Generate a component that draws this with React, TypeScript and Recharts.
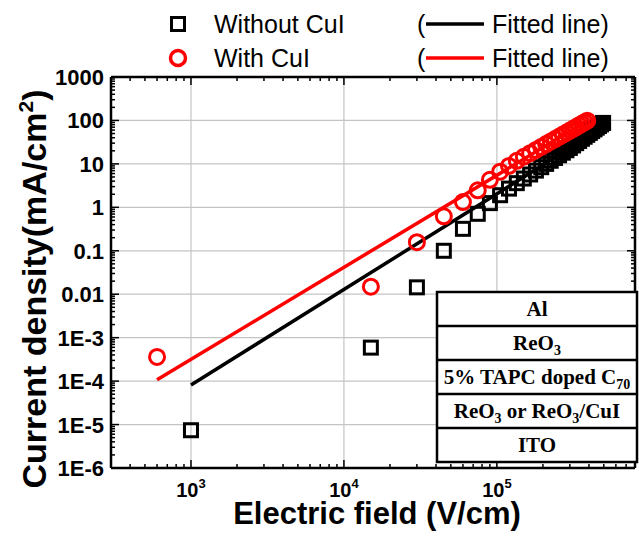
import React from "react";
import { CartesianGrid, Scatter, ScatterChart, XAxis, YAxis } from "recharts";

// Without CuI (black squares)
const FIELD_WITHOUT = [
  1000, 15000, 30000, 45000, 60000, 75000, 90000, 105000, 120000, 135000, 150000, 165000,
  180000, 195000, 210000, 225000, 240000, 255000, 270000, 285000, 300000, 315000, 330000,
  345000, 360000, 375000, 390000, 405000, 420000, 435000, 450000, 465000, 480000, 495000,
];
const J_WITHOUT = [
  7.4e-6, 5.9e-4, 0.0144, 0.1, 0.32, 0.71, 1.25, 1.9, 2.7, 3.6, 4.6, 5.7, 7.0, 8.4, 10.0,
  11.8, 13.7, 15.8, 18.1, 20.6, 23.3, 26.5, 30.0, 33.7, 37.8, 42.1, 46.7, 51.6, 56.8, 62.4,
  68.2, 74.4, 81.0, 87.8,
];

// With CuI (red circles)
const FIELD_WITH = [
  600, 15000, 30000, 45000, 60000, 75000, 90000, 105000, 120000, 135000, 150000, 165000,
  180000, 195000, 210000, 225000, 240000, 255000, 270000, 285000, 300000, 315000, 330000,
  345000, 360000, 375000, 390000,
];
const J_WITH = [
  3.6e-4, 0.0149, 0.158, 0.62, 1.32, 2.46, 4.3, 6.6, 9.0, 11.8, 14.6, 17.6, 21.0, 24.6, 28.6,
  32.8, 37.3, 42.1, 47.2, 52.6, 58.3, 64.2, 70.5, 77.1, 83.9, 91.0, 98.5,
];

// fitted lines (end points, straight in log-log)
const FIT_WITHOUT_X = [1000, 495000];
const FIT_WITHOUT_Y = [8.1e-5, 69];
const FIT_WITH_X = [600, 390000];
const FIT_WITH_Y = [1.07e-4, 98];

const X_MAJOR = [1e3, 1e4, 1e5];
const X_EXP = ["3", "4", "5"];
const Y_MAJOR = [1e-6, 1e-5, 1e-4, 1e-3, 0.01, 0.1, 1, 10, 100, 1000];
const Y_LABELS = ["1E-6", "1E-5", "1E-4", "1E-3", "0.01", "0.1", "1", "10", "100", "1000"];

// device stack, top to bottom: [text, subscript] pieces
const LAYERS: [string, string][][] = [
  [["Al", ""]],
  [["ReO", "3"]],
  [["5% TAPC doped C", "70"]],
  [["ReO", "3"], [" or ReO", "3"], ["/CuI", ""]],
  [["ITO", ""]],
];

const X_DOMAIN = [300, 800000];
const Y_DOMAIN = [1e-6, 1000];

const W = 639;
const H = 538;
const PLOT = { left: 111, top: 77, right: 635, bottom: 468 };
const TOP_H = 10;
const RIGHT_W = 4;

const RED = "#ff0000";
const SANS = "'Liberation Sans', Arial, sans-serif";
const SERIF = "'Liberation Serif', 'Times New Roman', serif";

function minorTicks(from: number, to: number) {
  const out: number[] = [];
  for (let d = from; d < to; d++) {
    for (let k = 1; k <= 9; k++) out.push(k * Math.pow(10, d));
  }
  return out;
}
const X_TICKS = minorTicks(2, 6).filter((v) => v >= X_DOMAIN[0] && v <= X_DOMAIN[1]);
const Y_TICKS = minorTicks(-6, 3).concat([1000]);

const findMajor = (v: number, list: number[]) => list.findIndex((m) => Math.abs(v / m - 1) < 1e-6);

const zip = (xs: number[], ys: number[]) => xs.map((x, i) => ({ x, y: ys[i] }));

function BottomTick(props: any) {
  const { x, y, payload } = props;
  const idx = findMajor(payload.value, X_MAJOR);
  const major = idx >= 0;
  return (
    <g>
      <line x1={x} x2={x} y1={y} y2={y - (major ? 8 : 4)} stroke="#000" strokeWidth={1.5} />
      {major && (
        <text x={x} y={y + 29} textAnchor="middle" fontFamily={SANS} fontWeight="bold" fontSize={20} fill="#000">
          10
          <tspan dy={-9} fontSize={13}>
            {X_EXP[idx]}
          </tspan>
        </text>
      )}
    </g>
  );
}

function TopTick(props: any) {
  const { x, y, payload } = props;
  const major = findMajor(payload.value, X_MAJOR) >= 0;
  return <line x1={x} x2={x} y1={y} y2={y + (major ? 8 : 4)} stroke="#000" strokeWidth={1.5} />;
}

function LeftTick(props: any) {
  const { x, y, payload } = props;
  const idx = findMajor(payload.value, Y_MAJOR);
  const major = idx >= 0;
  return (
    <g>
      <line x1={x} x2={x + (major ? 8 : 4)} y1={y} y2={y} stroke="#000" strokeWidth={1.5} />
      {major && (
        <text x={x - 7} y={y + 8} textAnchor="end" fontFamily={SANS} fontWeight="bold" fontSize={22} fill="#000">
          {Y_LABELS[idx]}
        </text>
      )}
    </g>
  );
}

function RightTick(props: any) {
  const { x, y, payload } = props;
  const major = findMajor(payload.value, Y_MAJOR) >= 0;
  return <line x1={x} x2={x - (major ? 8 : 4)} y1={y} y2={y} stroke="#000" strokeWidth={1.5} />;
}

const squareShape = (p: any) => (
  <rect x={p.cx - 6.5} y={p.cy - 6.5} width={13} height={13} fill="none" stroke="#000" strokeWidth={3} />
);
const circleShape = (p: any) => <circle cx={p.cx} cy={p.cy} r={7.5} fill="none" stroke={RED} strokeWidth={3} />;
const noShape = () => <g />;

function LayerText({ parts }: { parts: [string, string][] }) {
  const spans: React.ReactNode[] = [];
  let lowered = false;
  parts.forEach(([t, sub], j) => {
    spans.push(
      <tspan key={`t${j}`} dy={lowered ? -5 : 0}>
        {t}
      </tspan>
    );
    lowered = false;
    if (sub) {
      spans.push(
        <tspan key={`s${j}`} dy={5} fontSize={14}>
          {sub}
        </tspan>
      );
      lowered = true;
    }
  });
  return <>{spans}</>;
}

function Overlay() {
  const tx = 437;
  const ty = 292;
  const tw = 200;
  const rowH = 34;
  return (
    <svg width={W} height={H} style={{ position: "absolute", left: 0, top: 0, pointerEvents: "none" }}>
      {/* legend */}
      <rect x={171.5} y={17.5} width={13} height={13} fill="#fff" stroke="#000" strokeWidth={3} />
      <text x={214} y={33} fontFamily={SANS} fontSize={25} fill="#000">Without CuI</text>
      <text x={417} y={33} fontFamily={SANS} fontSize={25} fill="#000">(</text>
      <line x1={426} x2={484} y1={24} y2={24} stroke="#000" strokeWidth={3.5} />
      <text x={492} y={33} fontFamily={SANS} fontSize={25} fill="#000">Fitted line)</text>

      <circle cx={178} cy={58} r={7.5} fill="#fff" stroke={RED} strokeWidth={3.5} />
      <text x={214} y={67} fontFamily={SANS} fontSize={25} fill="#000">With CuI</text>
      <text x={417} y={67} fontFamily={SANS} fontSize={25} fill="#000">(</text>
      <line x1={426} x2={484} y1={58} y2={58} stroke={RED} strokeWidth={3.5} />
      <text x={492} y={67} fontFamily={SANS} fontSize={25} fill="#000">Fitted line)</text>

      {/* axis titles */}
      <text x={377} y={524} textAnchor="middle" fontFamily={SANS} fontWeight="bold" fontSize={31} fill="#000">
        Electric field (V/cm)
      </text>
      <text
        transform="translate(46 289) rotate(-90)"
        textAnchor="middle"
        fontFamily={SANS}
        fontWeight="bold"
        fontSize={34}
        fill="#000"
      >
        Current density(mA/cm
        <tspan dy={-13} fontSize={21}>2</tspan>
        <tspan dy={13}>)</tspan>
      </text>

      {/* device structure */}
      <rect x={tx} y={ty} width={tw} height={rowH * LAYERS.length} fill="#fff" stroke="#000" strokeWidth={2.5} />
      {LAYERS.map((parts, i) => (
        <g key={i}>
          {i > 0 && <line x1={tx} x2={tx + tw} y1={ty + i * rowH} y2={ty + i * rowH} stroke="#000" strokeWidth={2.5} />}
          <text
            x={tx + tw / 2}
            y={ty + i * rowH + rowH / 2 + 7}
            textAnchor="middle"
            fontFamily={SERIF}
            fontWeight="bold"
            fontSize={21}
            fill="#000"
          >
            <LayerText parts={parts} />
          </text>
        </g>
      ))}
    </svg>
  );
}

export default function App() {
  return (
    <div style={{ position: "absolute", left: 0, top: 0, width: W, height: H, background: "#fff", overflow: "hidden" }}>
      <ScatterChart
        width={W}
        height={H}
        margin={{ top: PLOT.top - TOP_H, right: W - PLOT.right - RIGHT_W, left: 0, bottom: 0 }}
      >
        <CartesianGrid
          xAxisId="b"
          yAxisId="l"
          stroke="#c4c4c4"
          strokeWidth={1.2}
          horizontalValues={Y_MAJOR}
          verticalValues={X_MAJOR}
        />
        <XAxis
          xAxisId="b"
          type="number"
          dataKey="x"
          scale="log"
          domain={X_DOMAIN}
          allowDataOverflow
          ticks={X_TICKS}
          interval={0}
          height={H - PLOT.bottom}
          tickSize={0}
          tickMargin={0}
          tickLine={false}
          axisLine={{ stroke: "#000", strokeWidth: 2.5 }}
          tick={BottomTick}
        />
        <XAxis
          xAxisId="t"
          orientation="top"
          type="number"
          dataKey="x"
          scale="log"
          domain={X_DOMAIN}
          allowDataOverflow
          ticks={X_TICKS}
          interval={0}
          height={TOP_H}
          tickSize={0}
          tickMargin={0}
          tickLine={false}
          axisLine={{ stroke: "#000", strokeWidth: 2.5 }}
          tick={TopTick}
        />
        <YAxis
          yAxisId="l"
          type="number"
          dataKey="y"
          scale="log"
          domain={Y_DOMAIN}
          allowDataOverflow
          ticks={Y_TICKS}
          interval={0}
          width={PLOT.left}
          tickSize={0}
          tickMargin={0}
          tickLine={false}
          axisLine={{ stroke: "#000", strokeWidth: 2.5 }}
          tick={LeftTick}
        />
        <YAxis
          yAxisId="r"
          orientation="right"
          type="number"
          dataKey="y"
          scale="log"
          domain={Y_DOMAIN}
          allowDataOverflow
          ticks={Y_TICKS}
          interval={0}
          width={RIGHT_W}
          tickSize={0}
          tickMargin={0}
          tickLine={false}
          axisLine={{ stroke: "#000", strokeWidth: 2.5 }}
          tick={RightTick}
        />
        <Scatter
          xAxisId="b"
          yAxisId="l"
          data={zip(FIT_WITHOUT_X, FIT_WITHOUT_Y)}
          line={{ stroke: "#000", strokeWidth: 3.5 }}
          shape={noShape}
          isAnimationActive={false}
        />
        <Scatter
          xAxisId="b"
          yAxisId="l"
          data={zip(FIT_WITH_X, FIT_WITH_Y)}
          line={{ stroke: RED, strokeWidth: 3.5 }}
          shape={noShape}
          isAnimationActive={false}
        />
        <Scatter
          xAxisId="b"
          yAxisId="l"
          data={zip(FIELD_WITHOUT, J_WITHOUT)}
          shape={squareShape}
          isAnimationActive={false}
        />
        <Scatter
          xAxisId="b"
          yAxisId="l"
          data={zip(FIELD_WITH, J_WITH)}
          shape={circleShape}
          isAnimationActive={false}
        />
      </ScatterChart>
      <Overlay />
    </div>
  );
}
